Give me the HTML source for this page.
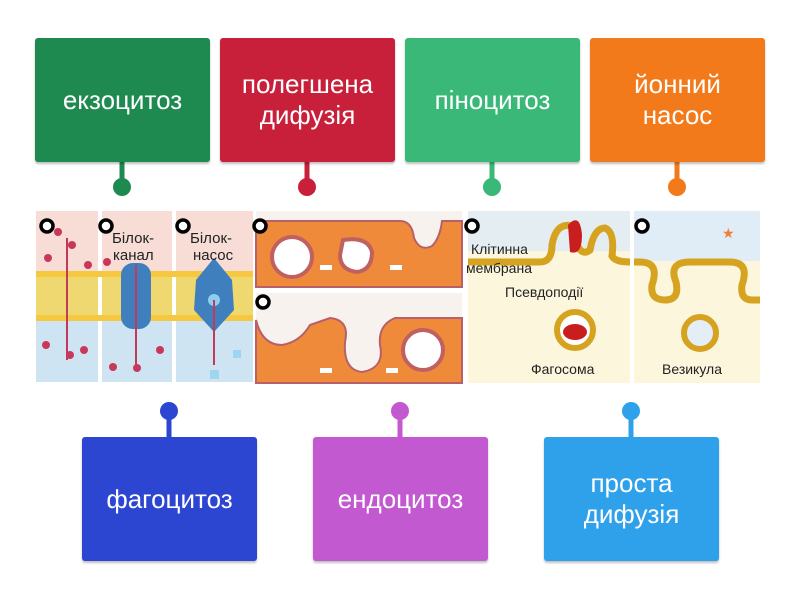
<!DOCTYPE html>
<html><head><meta charset="utf-8"><style>
body{margin:0;width:800px;height:600px;background:#fff;position:relative;overflow:hidden;font-family:"Liberation Sans",sans-serif}
.b{position:absolute;width:175px;height:124px;border-radius:3px;color:#fff;font-size:26px;display:flex;align-items:center;justify-content:center;text-align:center;line-height:31px;box-shadow:0 2px 2px rgba(0,0,0,.25)}
</style></head><body>
<svg width="800" height="600" style="position:absolute;left:0;top:0">
<g stroke-width="5">
<line x1="122" y1="160" x2="122" y2="187" stroke="#1f8a50"/><circle cx="122" cy="187" r="9" fill="#1f8a50"/>
<line x1="307" y1="160" x2="307" y2="187" stroke="#c8203a"/><circle cx="307" cy="187" r="9" fill="#c8203a"/>
<line x1="492" y1="160" x2="492" y2="187" stroke="#3ab877"/><circle cx="492" cy="187" r="9" fill="#3ab877"/>
<line x1="677" y1="160" x2="677" y2="187" stroke="#f27a1a"/><circle cx="677" cy="187" r="9" fill="#f27a1a"/>
<line x1="169" y1="411" x2="169" y2="440" stroke="#2c46d2"/><circle cx="169" cy="411" r="9" fill="#2c46d2"/>
<line x1="400" y1="411" x2="400" y2="440" stroke="#c359d0"/><circle cx="400" cy="411" r="9" fill="#c359d0"/>
<line x1="631" y1="411" x2="631" y2="440" stroke="#2ea1ea"/><circle cx="631" cy="411" r="9" fill="#2ea1ea"/>
</g>
<rect x="36" y="211" width="62" height="60" fill="#f7ddd6"/><rect x="36" y="271" width="62" height="50" fill="#f0d870"/><rect x="36" y="321" width="62" height="61" fill="#cfe4f2"/>
<rect x="102" y="211" width="70" height="60" fill="#f7ddd6"/><rect x="102" y="271" width="70" height="50" fill="#f0d870"/><rect x="102" y="321" width="70" height="61" fill="#cfe4f2"/>
<rect x="176" y="211" width="77" height="60" fill="#f7ddd6"/><rect x="176" y="271" width="77" height="50" fill="#f0d870"/><rect x="176" y="321" width="77" height="61" fill="#cfe4f2"/>
<g fill="#f5c840"><rect x="36" y="271" width="217" height="6"/><rect x="36" y="315" width="217" height="6"/></g>
<rect x="121" y="263" width="30" height="66" rx="12" fill="#3f7fbd"/><line x1="136" y1="265" x2="136" y2="365" stroke="#c23a5a" stroke-width="2"/>
<path d="M196 280 L214 258 L232 280 L234 310 L214 332 L194 310Z" fill="#3f7fbd"/><circle cx="214" cy="300" r="6" fill="#8cd0ee"/><line x1="214" y1="300" x2="214" y2="365" stroke="#c23a5a" stroke-width="2"/>
<line x1="67" y1="238" x2="67" y2="360" stroke="#c23a5a" stroke-width="2"/>
<g fill="#c9375a"><circle cx="72" cy="245" r="4"/><circle cx="48" cy="258" r="4"/><circle cx="88" cy="265" r="4"/><circle cx="58" cy="232" r="4"/><circle cx="46" cy="345" r="4"/><circle cx="70" cy="355" r="4"/><circle cx="84" cy="350" r="4"/><circle cx="107" cy="262" r="4"/><circle cx="113" cy="367" r="4"/><circle cx="137" cy="368" r="4"/><circle cx="160" cy="350" r="4"/></g>
<g fill="#9fd6ef"><rect x="210" y="370" width="9" height="9"/><rect x="233" y="350" width="8" height="8"/></g>
<rect x="256" y="211" width="206" height="76" fill="#f7f2ee"/><rect x="256" y="293" width="206" height="90" fill="#f7f2ee"/>
<path d="M256 221 L400 221 Q412 221 414 238 Q420 252 432 246 Q440 238 442 221 L462 221 L462 287 L256 287Z" fill="#ee8a3a" stroke="#b8606a" stroke-width="2"/>
<circle cx="292" cy="257" r="20" fill="#fff" stroke="#c06060" stroke-width="4"/><path d="M343 240 Q368 236 372 252 Q372 270 357 272 Q340 270 340 255Z" fill="#fff" stroke="#c06060" stroke-width="4"/>
<path d="M256 320 Q262 345 282 345 Q300 342 310 325 L330 318 Q350 320 345 342 Q343 370 362 372 Q385 368 380 345 Q378 325 395 318 L462 318 L462 383 L256 383Z" fill="#ee8a3a" stroke="#b8606a" stroke-width="2"/>
<circle cx="423" cy="350" r="20" fill="#fff" stroke="#c06060" stroke-width="4"/>
<g fill="#fff"><rect x="320" y="265" width="12" height="5"/><rect x="390" y="265" width="12" height="5"/><rect x="320" y="368" width="12" height="5"/><rect x="386" y="368" width="12" height="5"/></g>
<rect x="468" y="211" width="162" height="172" fill="#fbf6dc"/><rect x="468" y="211" width="162" height="40" fill="#e4edf2"/>
<path d="M468 262 L540 262 Q552 262 552 245 Q556 222 572 226 Q578 260 590 250 Q594 228 605 228 Q615 232 612 256 Q615 262 630 262" fill="none" stroke="#d6a320" stroke-width="7"/>
<path d="M568 225 Q580 212 582 235 Q582 256 570 252Z" fill="#c81e1e"/>
<circle cx="575" cy="330" r="18" fill="#fff" stroke="#d6a320" stroke-width="6"/><ellipse cx="575" cy="332" rx="12" ry="8" fill="#c81e1e"/>
<rect x="634" y="211" width="126" height="172" fill="#fbf6dc"/><rect x="634" y="211" width="126" height="50" fill="#e0ecf6"/>
<path d="M634 262 L640 262 Q660 262 652 285 Q650 300 665 300 Q680 300 676 282 Q668 262 690 262 L730 262 Q750 262 742 285 Q740 300 752 300 L760 300" fill="none" stroke="#d6a320" stroke-width="7"/>
<circle cx="700" cy="333" r="16" fill="#e3eef6" stroke="#d6a320" stroke-width="6"/>
<text x="722" y="238" fill="#f08030" font-size="14">★</text>
<g font-family="Liberation Sans,sans-serif" fill="#222">
<text x="112" y="243" font-size="15">Білок-</text><text x="113" y="260" font-size="15">канал</text>
<text x="190" y="243" font-size="15">Білок-</text><text x="193" y="260" font-size="15">насос</text>
<text x="471" y="254" font-size="14">Клітинна</text><text x="466" y="273" font-size="14">мембрана</text><text x="505" y="297" font-size="14">Псевдоподії</text>
<text x="531" y="374" font-size="14">Фагосома</text><text x="662" y="374" font-size="14">Везикула</text>
</g>
<g fill="#fff" stroke="#000" stroke-width="3.5">
<circle cx="47" cy="226" r="6"/><circle cx="106" cy="226" r="6"/><circle cx="183" cy="226" r="6"/><circle cx="260" cy="226" r="6"/><circle cx="263" cy="302" r="6"/><circle cx="472" cy="226" r="6"/><circle cx="642" cy="226" r="6"/>
</g>
</svg>
<div class="b" style="left:35px;top:38px;background:#1f8a50">екзоцитоз</div>
<div class="b" style="left:220px;top:38px;background:#c8203a">полегшена<br>дифузія</div>
<div class="b" style="left:405px;top:38px;background:#3ab877">піноцитоз</div>
<div class="b" style="left:590px;top:38px;background:#f27a1a">йонний<br>насос</div>
<div class="b" style="left:82px;top:437px;background:#2c46d2">фагоцитоз</div>
<div class="b" style="left:313px;top:437px;background:#c359d0">ендоцитоз</div>
<div class="b" style="left:544px;top:437px;background:#2ea1ea">проста<br>дифузія</div>
</body></html>
